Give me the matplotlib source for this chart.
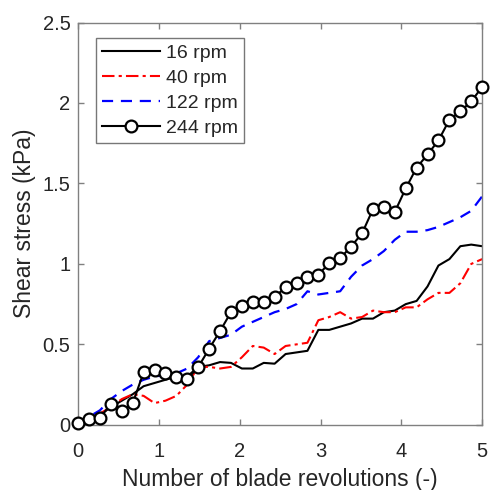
import matplotlib
matplotlib.use("Agg")
import matplotlib.pyplot as plt

plt.rcParams['font.family'] = ['Liberation Sans', 'DejaVu Sans']

revolutions = [0.000, 0.135, 0.270, 0.405, 0.541, 0.676, 0.811, 0.946, 1.081, 1.216,
               1.351, 1.486, 1.622, 1.757, 1.892, 2.027, 2.162, 2.297, 2.432, 2.568,
               2.703, 2.838, 2.973, 3.108, 3.243, 3.378, 3.514, 3.649, 3.784, 3.919,
               4.054, 4.189, 4.324, 4.459, 4.595, 4.730, 4.865, 5.000]

rpm16 = [0.00, 0.04, 0.06, 0.11, 0.15, 0.19, 0.24, 0.26, 0.28, 0.30,
         0.30, 0.36, 0.37, 0.39, 0.385, 0.35, 0.35, 0.385, 0.38, 0.44,
         0.45, 0.46, 0.59, 0.59, 0.61, 0.63, 0.66, 0.66, 0.70, 0.71,
         0.75, 0.77, 0.86, 0.99, 1.03, 1.11, 1.12, 1.11]

rpm40 = [0.00, 0.04, 0.07, 0.11, 0.16, 0.19, 0.18, 0.135, 0.15, 0.18,
         0.25, 0.36, 0.36, 0.35, 0.36, 0.42, 0.49, 0.48, 0.44, 0.49,
         0.50, 0.51, 0.65, 0.67, 0.70, 0.66, 0.67, 0.71, 0.70, 0.70,
         0.73, 0.73, 0.78, 0.82, 0.82, 0.88, 1.00, 1.03]

rpm122 = [0.00, 0.05, 0.09, 0.16, 0.21, 0.25, 0.28, 0.30, 0.31, 0.32,
          0.35, 0.42, 0.52, 0.54, 0.56, 0.61, 0.64, 0.67, 0.70, 0.72,
          0.75, 0.83, 0.81, 0.82, 0.83, 0.92, 0.99, 1.03, 1.08, 1.15,
          1.20, 1.20, 1.21, 1.23, 1.26, 1.29, 1.33, 1.42]

rpm244 = [0.01, 0.035, 0.045, 0.127, 0.085, 0.133, 0.327, 0.339, 0.323, 0.30,
          0.285, 0.358, 0.473, 0.583, 0.70, 0.74, 0.766, 0.766, 0.795, 0.854,
          0.879, 0.92, 0.933, 1.004, 1.035, 1.108, 1.19, 1.34, 1.354, 1.323,
          1.469, 1.598, 1.68, 1.767, 1.896, 1.948, 2.01, 2.10]

labels = ['16 rpm', '40 rpm', '122 rpm', '244 rpm']
xticks = [0, 1, 2, 3, 4, 5]
yticks = [0, 0.5, 1, 1.5, 2, 2.5]
ytick_labels = ['0', '0.5', '1', '1.5', '2', '2.5']

fig = plt.figure(figsize=(4.91, 4.90), dpi=100)
ax = fig.add_axes([0.159, 0.133, 0.823, 0.821])

ax.plot(revolutions, rpm16, color='black', lw=1.5, ls='-', label=labels[0])
ax.plot(revolutions, rpm40, color='red', lw=1.5, ls=(0, (6, 2, 1.5, 2)), label=labels[1])
ax.plot(revolutions, rpm122, color='blue', lw=1.6, ls=(0, (5, 3.5)), label=labels[2])
ax.plot(revolutions, rpm244, color='black', lw=1.5, ls='-', marker='o', ms=8.5,
        mfc='white', mec='black', mew=1.6, label=labels[3], clip_on=False, zorder=5)

ax.set_xlim(0, 5)
ax.set_ylim(0, 2.5)
ax.set_xticks(xticks)
ax.set_xticklabels([str(t) for t in xticks])
ax.set_yticks(yticks)
ax.set_yticklabels(ytick_labels)

spine_color = '#808080'
for s in ax.spines.values():
    s.set_color(spine_color)
    s.set_linewidth(1.0)
ax.tick_params(direction='in', top=True, right=True, length=4, width=1.0,
               color=spine_color, labelsize=14.5, labelcolor='#262626')
ax.tick_params(axis='x', pad=12.5)
ax.tick_params(axis='y', pad=5.5)

ax.set_xlabel('Number of blade revolutions (-)', fontsize=16.5, color='#262626', labelpad=5)
ax.set_ylabel('Shear stress (kPa)', fontsize=16.5, color='#262626', labelpad=5)

leg = ax.legend(loc='upper left', bbox_to_anchor=(0.044, 0.961), borderaxespad=0,
                fontsize=14, frameon=True, fancybox=False, handlelength=3.0,
                handletextpad=0.3, labelspacing=0.38, borderpad=0.3)
leg.get_frame().set_edgecolor('#555555')
leg.get_frame().set_linewidth(1.0)
for t in leg.get_texts():
    t.set_color('#262626')

fig.savefig('out.png', dpi=100)
